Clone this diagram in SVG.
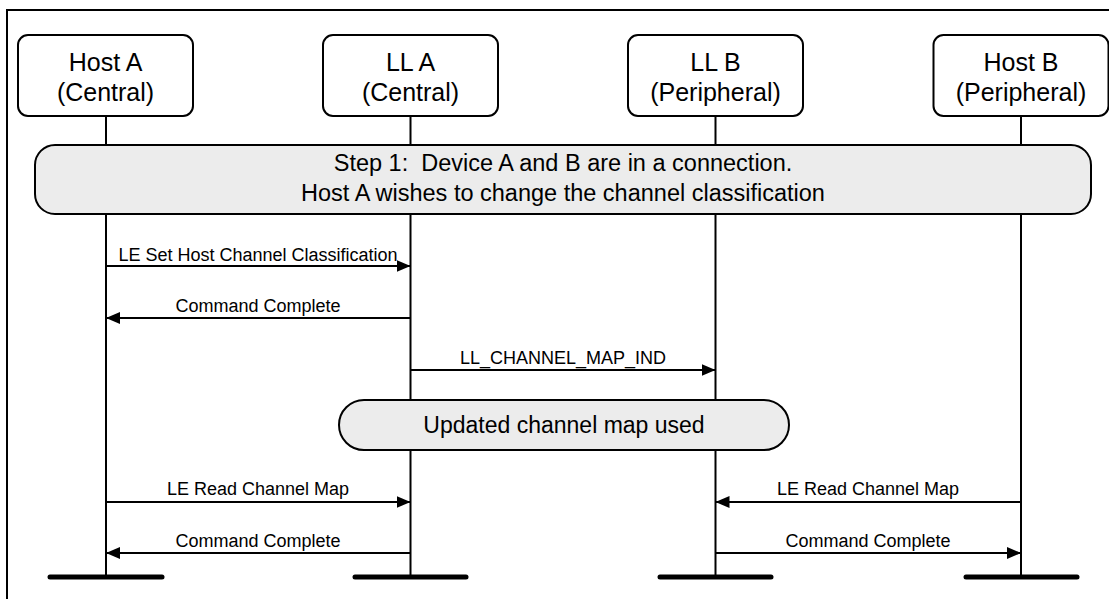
<svg xmlns="http://www.w3.org/2000/svg" width="1109" height="599" viewBox="0 0 1109 599">
<style>
  .box{fill:#fff;stroke:#000;stroke-width:2}
  .band{fill:#ececec;stroke:#000;stroke-width:2}
  .life{stroke:#000;stroke-width:2;fill:none}
  .bar{stroke:#000;stroke-width:5;stroke-linecap:round}
  .msg{stroke:#000;stroke-width:2;fill:none;marker-end:url(#ah)}
  .big{font-family:"Liberation Sans",Arial,sans-serif;font-size:25px;fill:#000;text-anchor:middle}
  .mid{font-family:"Liberation Sans",Arial,sans-serif;font-size:23.5px;fill:#000;text-anchor:middle}
  .lbl{font-family:"Liberation Sans",Arial,sans-serif;font-size:18px;fill:#000;text-anchor:middle}
</style>
<defs>
  <marker id="ah" markerUnits="userSpaceOnUse" markerWidth="14" markerHeight="12" refX="14" refY="6" orient="auto">
    <path d="M0,0 L14,6 L0,12 z" fill="#000"/>
  </marker>
</defs>
<rect width="1109" height="599" fill="#fff"/>
<path d="M7,599 V10 H1109" fill="none" stroke="#000" stroke-width="2"/>

<g id="lifelines">
  <line class="life" x1="106" y1="116" x2="106" y2="577"/>
  <line class="life" x1="410.5" y1="116" x2="410.5" y2="577"/>
  <line class="life" x1="715.5" y1="116" x2="715.5" y2="577"/>
  <line class="life" x1="1021" y1="116" x2="1021" y2="577"/>
  <line class="bar" x1="50" y1="577" x2="162" y2="577"/>
  <line class="bar" x1="355" y1="577" x2="466" y2="577"/>
  <line class="bar" x1="660" y1="577" x2="771" y2="577"/>
  <line class="bar" x1="966" y1="577" x2="1077" y2="577"/>
</g>

<g id="hostA">
  <rect class="box" x="18" y="35" width="175" height="81" rx="10"/>
  <text class="big" x="105.5" y="71">Host A</text>
  <text class="big" x="105.5" y="101">(Central)</text>
</g>
<g id="llA">
  <rect class="box" x="323" y="35" width="175" height="81" rx="10"/>
  <text class="big" x="410.5" y="71">LL A</text>
  <text class="big" x="410.5" y="101">(Central)</text>
</g>
<g id="llB">
  <rect class="box" x="628" y="35" width="175" height="81" rx="10"/>
  <text class="big" x="715.5" y="71">LL B</text>
  <text class="big" x="715.5" y="101">(Peripheral)</text>
</g>
<g id="hostB">
  <rect class="box" x="933.5" y="35" width="175" height="81" rx="10"/>
  <text class="big" x="1021" y="71">Host B</text>
  <text class="big" x="1021" y="101">(Peripheral)</text>
</g>

<g id="step1">
  <rect class="band" x="35" y="145" width="1056" height="69" rx="20"/>
  <text class="mid" x="563" y="171" xml:space="preserve">Step 1:  Device A and B are in a connection.</text>
  <text class="mid" x="563" y="201">Host A wishes to change the channel classification</text>
</g>

<g id="updated">
  <rect class="band" x="339" y="400" width="450" height="50" rx="25"/>
  <text class="mid" x="564" y="433" style="font-size:23px">Updated channel map used</text>
</g>

<g id="connectors">
  <line class="msg" x1="106" y1="266" x2="410.5" y2="266"/>
  <text class="lbl" x="258" y="261">LE Set Host Channel Classification</text>
  <line class="msg" x1="410.5" y1="318" x2="106" y2="318"/>
  <text class="lbl" x="258" y="312">Command Complete</text>
  <line class="msg" x1="410.5" y1="370" x2="715.5" y2="370"/>
  <text class="lbl" x="563" y="364">LL_CHANNEL_MAP_IND</text>
  <line class="msg" x1="106" y1="502" x2="410.5" y2="502"/>
  <text class="lbl" x="258" y="495">LE Read Channel Map</text>
  <line class="msg" x1="410.5" y1="553" x2="106" y2="553"/>
  <text class="lbl" x="258" y="547">Command Complete</text>
  <line class="msg" x1="1021" y1="502" x2="715.5" y2="502"/>
  <text class="lbl" x="868" y="495">LE Read Channel Map</text>
  <line class="msg" x1="715.5" y1="553" x2="1021" y2="553"/>
  <text class="lbl" x="868" y="547">Command Complete</text>
</g>
</svg>
